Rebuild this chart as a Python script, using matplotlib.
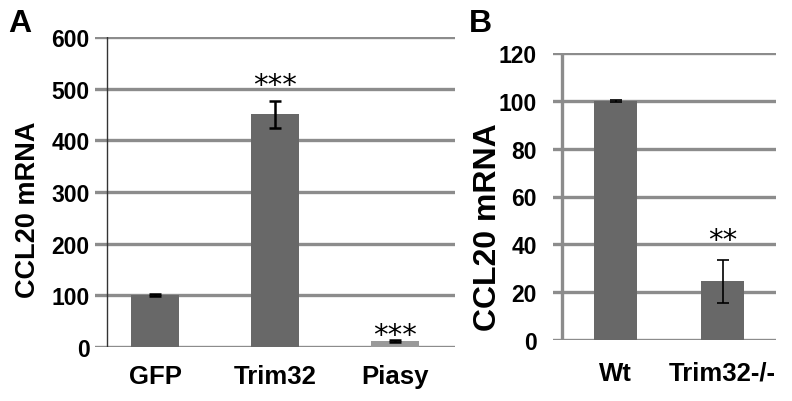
import matplotlib.pyplot as plt

# --- dados ---
cats_a = ['GFP', 'Trim32', 'Piasy']
vals_a = [100, 450, 11]
errs_a = [2, 27, 2]
stars_a = ['', '***', '***']

cats_b = ['Wt', 'Trim32-/-']
vals_b = [100, 24.5]
errs_b = [0.3, 9]
stars_b = ['', '**']

plt.rcParams['font.family'] = ['Liberation Sans', 'DejaVu Sans']

fig = plt.figure(figsize=(7.92, 4.02), dpi=100)

GRID = '#8c8c8c'
BAR = '#686868'


def estilo(ax, ticks, pad_y, pad_x):
    ax.set_yticks(ticks)
    ax.yaxis.grid(True, color=GRID, linewidth=2.4)
    ax.set_axisbelow(True)
    for s in ax.spines.values():
        s.set_visible(False)
    ax.tick_params(axis='both', length=0)
    ax.tick_params(axis='y', pad=pad_y, labelsize=16.5)
    ax.tick_params(axis='x', pad=pad_x, labelsize=18.5)
    for t in ax.get_yticklabels() + ax.get_xticklabels():
        t.set_fontweight('bold')


def asteriscos(ax, xs, ys, marcas):
    for xi, yi, s in zip(xs, ys, marcas):
        if s:
            ax.text(xi, yi, s, ha='center', va='center', fontsize=21,
                    family='DejaVu Sans')


# --- Painel A ---
ax1 = fig.add_axes([95 / 792, 1 - 348 / 402, 360 / 792, 310 / 402])
x_a = list(range(len(cats_a)))
cores_a = [BAR, BAR, '#9a9a9a']
ax1.bar(x_a, vals_a, width=0.4, color=cores_a, zorder=2)
ax1.errorbar(x_a, vals_a, yerr=errs_a, fmt='none', ecolor='black',
             elinewidth=1.8, capsize=4, capthick=1.8, zorder=3)
asteriscos(ax1, x_a, [0, 508, 24], stars_a)
ax1.set_xlim(-0.5, 2.5)
ax1.set_ylim(0, 600)
ax1.set_xticks(x_a)
ax1.set_xticklabels(cats_a)
estilo(ax1, range(0, 601, 100), 4, 12)
ax1.axvline(-0.4, color='#333333', linewidth=1.0, zorder=1)

# --- Painel B ---
ax2 = fig.add_axes([553 / 792, 1 - 341 / 402, 223 / 792, 287 / 402])
x_b = list(range(len(cats_b)))
ax2.bar(x_b, vals_b, width=0.41, color=BAR, zorder=2)
ax2.errorbar(x_b, vals_b, yerr=errs_b, fmt='none', ecolor='black',
             elinewidth=1.2, capsize=4, capthick=1.2, zorder=3)
asteriscos(ax2, x_b, [0, 42], stars_b)
ax2.set_xlim(-0.5 - 9 / 107, 1.5)
ax2.set_ylim(0, 120)
ax2.set_xticks(x_b)
ax2.set_xticklabels(cats_b)
estilo(ax2, range(0, 121, 20), 11.5, 15)
ax2.axvline(-0.5, color=GRID, linewidth=2.4, zorder=1)

# --- rótulos ---
fig.text(28 / 792, 1 - 210 / 402, 'CCL20 mRNA', rotation=90, ha='center',
         va='center', fontsize=19.5, fontweight='bold')
fig.text(488 / 792, 1 - 227 / 402, 'CCL20 mRNA', rotation=90, ha='center',
         va='center', fontsize=23, fontweight='bold')
fig.text(8 / 792, 1 - 32 / 402, 'A', fontsize=23, fontweight='bold')
fig.text(469 / 792, 1 - 32 / 402, 'B', fontsize=23, fontweight='bold')

fig.savefig('out.png', dpi=100)
